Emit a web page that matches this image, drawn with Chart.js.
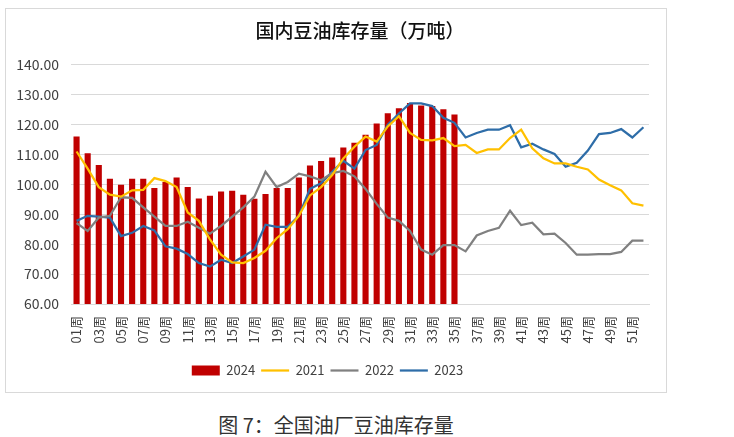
<!DOCTYPE html>
<html>
<head>
<meta charset="utf-8">
<script src="https://cdn.jsdelivr.net/npm/chart.js@4"></script>
<style>
  html, body { margin: 0; padding: 0; background: #fff; }
  body { width: 734px; height: 437px; position: relative; overflow: hidden; font-family: "Noto Sans CJK SC", sans-serif; }
  #box { position: absolute; left: 5px; top: 8px; width: 662px; height: 385px; border: 1px solid #d9d9d9; box-sizing: border-box; }
  #caption { position: absolute; left: 0; width: 672px; top: 410px; text-align: center; font-size: 20px; color: #333; }
</style>
</head>
<body>
<div id="box"><canvas id="c" width="660" height="383"></canvas></div>
<div id="caption">图 7：全国油厂豆油库存量</div>
<script>
// week labels 01周 ... 52周
const weeks = [];
for (let i = 1; i <= 52; i++) weeks.push(String(i).padStart(2, '0') + '周');

const yTicks = [60, 70, 80, 90, 100, 110, 120, 130, 140];

const stock2024 = [116, 110.4, 106.5, 101.9, 99.9, 101.9, 101.9, 98.8, 100.8, 102.3,
    99.1, 95.3, 96.2, 97.6, 97.9, 96.5, 95.2, 96.8, 98.8, 98.8,
    102.3, 106.3, 107.8, 109.0, 112.3, 113.9, 116.6, 120.4, 123.8, 125.5,
    127.2, 126.4, 126.2, 125.1, 123.4];

const stock2021 = [111.0, 105.3, 99.1, 96.6, 95.9, 98.0, 98.2, 102.1, 101.1, 99.1,
    90.6, 87.8, 81.6, 76.5, 73.9, 73.7, 75.4, 77.8, 82.0, 85.0,
    89.5, 96.3, 99.1, 103.1, 108.7, 112.6, 116.0, 114.3, 119.4, 122.8,
    117.2, 114.9, 114.7, 115.5, 112.8, 113.2, 110.5, 111.7, 111.7, 115.5,
    118.3, 112.1, 108.7, 107.0, 107.0, 105.9, 105.0, 101.6, 99.7, 98.0,
    93.7, 92.9];

const stock2022 = [87.1, 84.4, 88.9, 89.5, 95.7, 95.5, 92.3, 89.2, 86.1, 86.1,
    87.5, 85.5, 83.5, 86.1, 89.2, 92.3, 95.9, 104.2, 99.1, 100.8,
    103.6, 102.7, 101.4, 103.8, 104.5, 102.7, 98.5, 93.5, 88.9, 87.8,
    84.4, 78.2, 76.5, 79.7, 79.7, 77.6, 82.9, 84.4, 85.5, 91.2,
    86.4, 87.2, 83.3, 83.5, 80.4, 76.5, 76.5, 76.7, 76.7, 77.4,
    81.2, 81.2];

const stock2023 = [87.8, 89.5, 89.2, 88.9, 82.7, 83.8, 86.1, 84.6, 79.3, 78.5,
    76.7, 73.7, 72.5, 74.8, 73.7, 75.9, 78.2, 86.5, 85.8, 85.8,
    89.5, 98.5, 100.4, 104.2, 107.9, 105.3, 111.5, 113.2, 120.0, 123.7,
    127.1, 127.1, 126.2, 122.3, 120.6, 115.7, 117.2, 118.3, 118.3, 119.8,
    112.4, 113.6, 111.7, 110.2, 105.9, 107.2, 111.3, 116.8, 117.2, 118.5,
    115.7, 119.1];

const tickFont = { family: '"Noto Sans CJK SC", sans-serif', size: 13 };

function lineSet(label, data, color) {
    return {
        type: 'line', label: label, data: data,
        borderColor: color, backgroundColor: color,
        borderWidth: 2.25, pointRadius: 0, pointStyle: 'line',
        tension: 0, order: 1
    };
}

new Chart(document.getElementById('c'), {
    type: 'bar',
    data: {
        labels: weeks,
        datasets: [
            { label: '2024', data: stock2024, backgroundColor: '#C00000', borderWidth: 0,
              barPercentage: 0.55, categoryPercentage: 1, pointStyle: 'rect', order: 2 },
            lineSet('2021', stock2021, '#FFC000'),
            lineSet('2022', stock2022, '#808080'),
            lineSet('2023', stock2023, '#2E6DA8')
        ]
    },
    options: {
        responsive: false,
        animation: false,
        layout: { padding: { top: 10, right: 17, bottom: 5, left: 0 } },
        plugins: {
            title: {
                display: true,
                fullSize: false,
                text: '国内豆油库存量（万吨）',
                color: '#111',
                font: { family: '"Noto Sans CJK SC", sans-serif', size: 19, weight: '500' },
                padding: { top: 0, bottom: 23 }
            },
            legend: {
                position: 'bottom',
                labels: {
                    usePointStyle: true, pointStyleWidth: 28, boxHeight: 10,
                    padding: 6, color: '#404040', font: tickFont,
                    sort: (a, b) => a.datasetIndex - b.datasetIndex
                }
            },
            tooltip: { enabled: false }
        },
        scales: {
            x: {
                grid: { display: false },
                border: { color: '#d9d9d9' },
                ticks: {
                    autoSkip: false, minRotation: 90, maxRotation: 90,
                    color: '#404040', font: tickFont, padding: 4,
                    callback: (v, i) => (i % 2 === 0 ? weeks[i] : '')
                },
                afterFit: s => { s.height = 54; }
            },
            y: {
                min: yTicks[0], max: yTicks[yTicks.length - 1],
                afterBuildTicks: s => { s.ticks = yTicks.map(v => ({ value: v })); },
                grid: { color: '#d9d9d9', drawTicks: false },
                border: { display: false },
                ticks: {
                    color: '#404040', font: { family: '"Noto Sans CJK SC", sans-serif', size: 14 },
                    padding: 12, callback: v => v.toFixed(2)
                },
                afterFit: s => { s.width = 65; }
            }
        }
    }
});
</script>
</body>
</html>
